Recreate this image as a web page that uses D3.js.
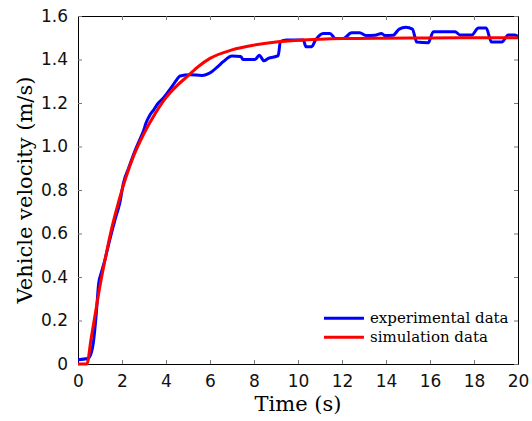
<!DOCTYPE html>
<html>
<head>
<meta charset="utf-8">
<script src="https://cdn.jsdelivr.net/npm/d3@7"></script>
<style>
  body { margin: 0; background: #fff; }
</style>
</head>
<body>
<div id="chart"></div>
<script>
const WIDTH = 532;
const HEIGHT = 421;

const expTime = [0, 0.45, 0.6, 0.7, 0.83, 0.94, 1.06, 1.2, 1.44, 1.7, 1.9, 2.06, 2.3, 2.59, 2.8, 2.97,
  3.1, 3.27, 3.45, 3.65, 3.85, 4.1, 4.3, 4.48, 4.64, 5.09, 5.62, 6.08, 6.38, 6.6, 7.0, 7.4, 7.5,
  8.05, 8.24, 8.45, 8.65, 9.1, 9.2, 9.48, 10.24, 10.36, 10.62, 10.8, 11.15, 11.45, 11.7, 12.06,
  12.44, 12.8, 13.12, 13.5, 13.8, 13.95, 14.33, 14.6, 14.9, 15.2, 15.4, 15.92, 16.15, 17.14,
  17.36, 17.9, 18.2, 18.55, 18.8, 19.26, 19.56, 19.86, 20];
const expVel = [0.02, 0.025, 0.05, 0.1, 0.23, 0.37, 0.42, 0.47, 0.57, 0.67, 0.74, 0.83, 0.9, 0.98, 1.03, 1.07,
  1.11, 1.145, 1.17, 1.2, 1.22, 1.252, 1.28, 1.306, 1.324, 1.33, 1.327, 1.344, 1.37, 1.39, 1.416, 1.414, 1.40,
  1.40, 1.42, 1.394, 1.405, 1.418, 1.482, 1.49, 1.49, 1.459, 1.459, 1.49, 1.52, 1.52, 1.497, 1.497,
  1.523, 1.523, 1.51, 1.512, 1.52, 1.51, 1.512, 1.54, 1.548, 1.54, 1.48, 1.477, 1.528, 1.528,
  1.513, 1.513, 1.545, 1.545, 1.48, 1.48, 1.513, 1.513, 1.505];

// simulation data
const simTime = [0, 0.4, 0.6, 0.8, 1.0, 1.25, 1.5, 1.75, 2, 2.5, 3, 3.5, 4, 4.5, 5, 5.5, 6, 7, 8, 9, 10, 11, 12, 14, 16, 18, 20];
const simVel = [0, 0, 0.12, 0.24, 0.36, 0.49, 0.61, 0.71, 0.80, 0.95, 1.06, 1.15, 1.225, 1.28,
  1.325, 1.37, 1.405, 1.444, 1.466, 1.48, 1.488, 1.493, 1.496, 1.498, 1.499, 1.5, 1.5];

const xTicks = [0, 2, 4, 6, 8, 10, 12, 14, 16, 18, 20];
const yTicks = [0, 0.2, 0.4, 0.6, 0.8, 1.0, 1.2, 1.4, 1.6];
const yTickLabels = ['0', '0.2', '0.4', '0.6', '0.8', '1.0', '1.2', '1.4', '1.6'];

const legendNames = ['experimental data', 'simulation data'];
const colors = ['#0000ff', '#ff0000'];

const MARGIN = { TOP: 16, RIGHT: 14, BOTTOM: 57, LEFT: 78 };
const w = WIDTH - MARGIN.LEFT - MARGIN.RIGHT;
const h = HEIGHT - MARGIN.TOP - MARGIN.BOTTOM;

const svg = d3.select('#chart').append('svg')
  .attr('width', WIDTH)
  .attr('height', HEIGHT);

const g = svg.append('g')
  .attr('transform', `translate(${MARGIN.LEFT}, ${MARGIN.TOP})`);

const x = d3.scaleLinear().domain([0, 20]).range([0, w]);
const y = d3.scaleLinear().domain([0, 1.6]).range([h, 0]);

const tickFont = '"DejaVu Sans", sans-serif';
const serif = '"DejaVu Serif", serif';

// axes: inner ticks on all four sides
const axisBottomG = g.append('g').attr('transform', `translate(0, ${h})`)
  .call(d3.axisBottom(x).tickValues(xTicks).tickSizeInner(-4).tickSizeOuter(0).tickPadding(11));
const axisTopG = g.append('g')
  .call(d3.axisTop(x).tickValues(xTicks).tickSizeInner(-4).tickSizeOuter(0).tickFormat(''));
const axisLeftG = g.append('g')
  .call(d3.axisLeft(y).tickValues(yTicks).tickSizeInner(-4).tickSizeOuter(0).tickPadding(10)
    .tickFormat((d, i) => yTickLabels[i]));
const axisRightG = g.append('g').attr('transform', `translate(${w}, 0)`)
  .call(d3.axisRight(y).tickValues(yTicks).tickSizeInner(-4).tickSizeOuter(0).tickFormat(''));

[axisBottomG, axisTopG, axisLeftG, axisRightG].forEach(a => {
  a.select('.domain').attr('stroke', '#000').attr('stroke-width', 1);
  a.selectAll('.tick line').attr('stroke', '#777');
  a.selectAll('.tick text').attr('fill', '#111')
    .style('font-family', tickFont).style('font-size', '17px');
});

const line = d3.line()
  .x(d => x(d[0]))
  .y(d => y(d[1]))
  .curve(d3.curveMonotoneX);

const expData = expTime.map((t, i) => [t, expVel[i]]);
const simData = simTime.map((t, i) => [t, simVel[i]]);

g.append('path').datum(expData)
  .attr('d', line)
  .attr('fill', 'none')
  .attr('stroke', colors[0])
  .attr('stroke-width', 3)
  .attr('stroke-linejoin', 'round');

g.append('path').datum(simData)
  .attr('d', line)
  .attr('fill', 'none')
  .attr('stroke', colors[1])
  .attr('stroke-width', 3)
  .attr('stroke-linejoin', 'round');

// axis titles
svg.append('text')
  .attr('x', MARGIN.LEFT + w / 2)
  .attr('y', 411)
  .attr('text-anchor', 'middle')
  .style('font-family', serif)
  .style('font-size', '21px')
  .text('Time (s)');

svg.append('text')
  .attr('transform', `translate(32, ${MARGIN.TOP + h / 2}) rotate(-90)`)
  .attr('text-anchor', 'middle')
  .style('font-family', serif)
  .style('font-size', '21px')
  .text('Vehicle velocity (m/s)');

// legend
const legend = g.append('g').attr('transform', `translate(${x(11.18)}, ${y(0.21)})`);
legendNames.forEach((name, i) => {
  const row = legend.append('g').attr('transform', `translate(0, ${i * 19})`);
  row.append('line')
    .attr('x1', 0).attr('x2', 40)
    .attr('stroke', colors[i]).attr('stroke-width', 3);
  row.append('text')
    .attr('x', 46).attr('y', 0)
    .attr('dy', '0.32em')
    .style('font-family', serif)
    .style('font-size', '15px')
    .text(name);
});
</script>
</body>
</html>
